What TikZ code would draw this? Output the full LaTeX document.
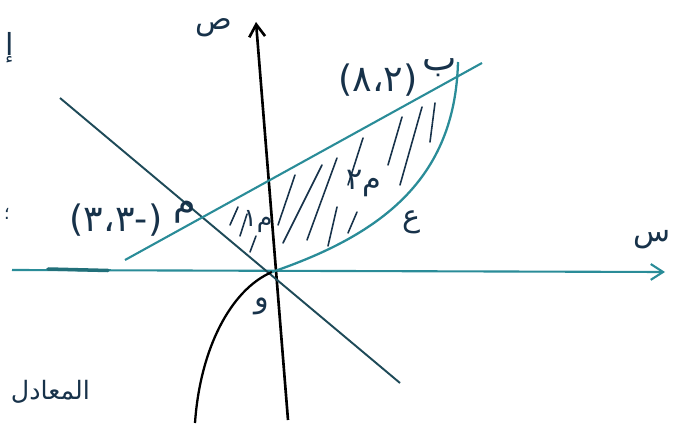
\documentclass[tikz,border=0pt]{standalone}
\usepackage{fontspec}
\newfontfamily\arabicfont[Script=Arabic]{DejaVu Sans}
\TeXXeTstate=1
\usetikzlibrary{arrows.meta}
\definecolor{tealink}{HTML}{2A8C98}
\definecolor{darkink}{HTML}{1E4A58}
\definecolor{inkblue}{HTML}{17324A}
\begin{document}
\begin{tikzpicture}[x=0.02cm,y=-0.02cm,
    lbl/.style={text=inkblue,font=\arabicfont\LARGE,inner sep=1pt},
    hatch/.style={draw=inkblue,line width=0.9pt,line cap=round},
    barb/.style={-{Straight Barb[length=7pt,width=9pt]}}]
  \useasboundingbox (0,0) rectangle (683,439);
  % points of the figure
  \coordinate (O) at (272,272);
  \coordinate (xs) at (12,270);
  \coordinate (xe) at (665,272);
  \coordinate (ys) at (288,420);
  \coordinate (ye) at (256,22);
  \coordinate (L1) at (60,98);
  \coordinate (L2) at (400,383);
  \coordinate (M0) at (125,260);
  \coordinate (B0) at (482,63);
  \coordinate (C0) at (195,423);
  \coordinate (C1) at (458,62);
  % axes
  \draw[tealink,line width=1.2pt,barb] (xs) -- (xe);
  \draw[tealink!80!black,line width=2pt,line cap=round] (48,269) -- (108,270.5);
  \draw[black,line width=1.5pt,barb] (ys) -- (ye);
  % lines
  \draw[darkink,line width=1.1pt] (L1) -- (L2);
  \draw[tealink,line width=1.2pt] (M0) -- (B0);
  % curve
  \draw[black,line width=1.3pt] (C0) .. controls (200,350) and (230,290) .. (O);
  \draw[tealink,line width=1.3pt] (O) .. controls (380,235) and (455,180) .. (C1);
  % hatching
  \foreach \a/\b/\c/\d in {278/225/295/175, 283/243/322/165, 307/240/337/158,
      328/246/337/207, 348/185/363/138, 348/233/357/212, 388/165/402/117,
      400/185/422/107, 430/142/435/103, 230/225/238/207, 240/236/247/214,
      250/252/256/236}
    \draw[hatch] (\a,\b) -- (\c,\d);
  % labels
  \node[lbl] (ylab) at (214,28) {ص};
  \node[lbl] (xlab) at (652,240) {س};
  \node[lbl] (olab) at (262,306) {و};
  \node[lbl,font=\arabicfont\Large] (a1lab) at (258,222) {\beginR م١\endR};
  \node[lbl] (a2lab) at (364,184) {\beginR م٢\endR};
  \node[lbl] (clab) at (412,222) {ع};
  \node[lbl,font=\arabicfont\huge] (mcoord) at (116,220) {(-٣،٣)};
  \node[lbl,font=\arabicfont\huge] (mlab) at (185,212) {م};
  \node[lbl,font=\arabicfont\huge] (bcoord) at (378,80) {(٨،٢)};
  \node[lbl,font=\arabicfont\huge] (blab) at (440,68) {ب};
  \node[lbl,anchor=east,font=\arabicfont\Large] (eqlab) at (92,392) {\beginR المعادل\endR};
  \node[lbl] (toplab) at (10,48) {إ};
  \node[lbl,font=\arabicfont\normalsize] (dotlab) at (7,214) {؛};
\end{tikzpicture}
\end{document}
